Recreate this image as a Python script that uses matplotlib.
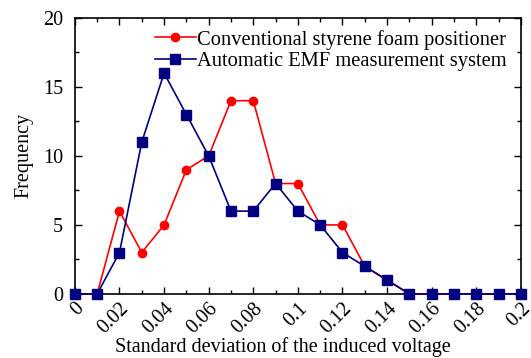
import matplotlib
matplotlib.use("Agg")
import matplotlib.pyplot as plt
import numpy as np
from matplotlib.ticker import MultipleLocator

plt.rcParams['font.family'] = ['Liberation Serif', 'DejaVu Serif']
plt.rcParams['mathtext.fontset'] = 'stix'

# data
std_dev = [0, 0.01, 0.02, 0.03, 0.04, 0.05, 0.06, 0.07, 0.08, 0.09, 0.10,
           0.11, 0.12, 0.13, 0.14, 0.15, 0.16, 0.17, 0.18, 0.19, 0.20]
conventional = [0, 0, 6, 3, 5, 9, 10, 14, 14, 8, 8, 5, 5, 2, 1, 0, 0, 0, 0, 0, 0]
automatic = [0, 0, 3, 11, 16, 13, 10, 6, 6, 8, 6, 5, 3, 2, 1, 0, 0, 0, 0, 0, 0]
x_ticks = [0, 0.02, 0.04, 0.06, 0.08, 0.1, 0.12, 0.14, 0.16, 0.18, 0.2]
x_tick_labels = ["0", "0.02", "0.04", "0.06", "0.08", "0.1", "0.12",
                 "0.14", "0.16", "0.18", "0.2"]

FS = 14.5

fig = plt.figure(figsize=(5.31, 3.58), dpi=100)
ax = fig.add_axes([0.141, 0.179, 0.840, 0.771])

ax.plot(std_dev, conventional, color="#ff0000", marker="o", markersize=6,
        lw=1.2, label="Conventional styrene foam positioner", clip_on=False, zorder=3)
ax.plot(std_dev, automatic, color="#000080", marker="s", markersize=6.5,
        lw=1.2, label="Automatic EMF measurement system", clip_on=False, zorder=4)

ax.set_xlim(0, 0.2)
ax.set_ylim(0, 20)
ax.set_xticks(x_ticks)
ax.set_xticklabels(x_tick_labels, rotation=45, ha="right", va="top",
                   rotation_mode="anchor")
ax.xaxis.set_minor_locator(MultipleLocator(0.01))
ax.set_yticks([0, 5, 10, 15, 20])
ax.yaxis.set_minor_locator(MultipleLocator(2.5))

ax.tick_params(which="both", direction="in", top=True, right=True,
               labelsize=FS, width=1)
ax.tick_params(which="major", length=5)
ax.tick_params(which="minor", length=3)
ax.tick_params(axis="x", pad=4)
ax.tick_params(axis="y", pad=8.5)

for spine in ax.spines.values():
    spine.set_linewidth(1.2)

ax.set_xlabel("Standard deviation of the induced voltage", fontsize=FS)
ax.xaxis.set_label_coords(0.466, -0.158)
ax.set_ylabel("Frequency", fontsize=FS)
ax.yaxis.label.set_va("center")
ax.yaxis.set_label_coords(-0.115, 0.5)

ax.legend(loc="upper right", frameon=False, fontsize=14.8, handlelength=2.0,
          handletextpad=0.05, borderaxespad=0.0, labelspacing=0.1,
          borderpad=0.2, bbox_to_anchor=(0.977, 0.972))

fig.savefig("out.png", dpi=100)
